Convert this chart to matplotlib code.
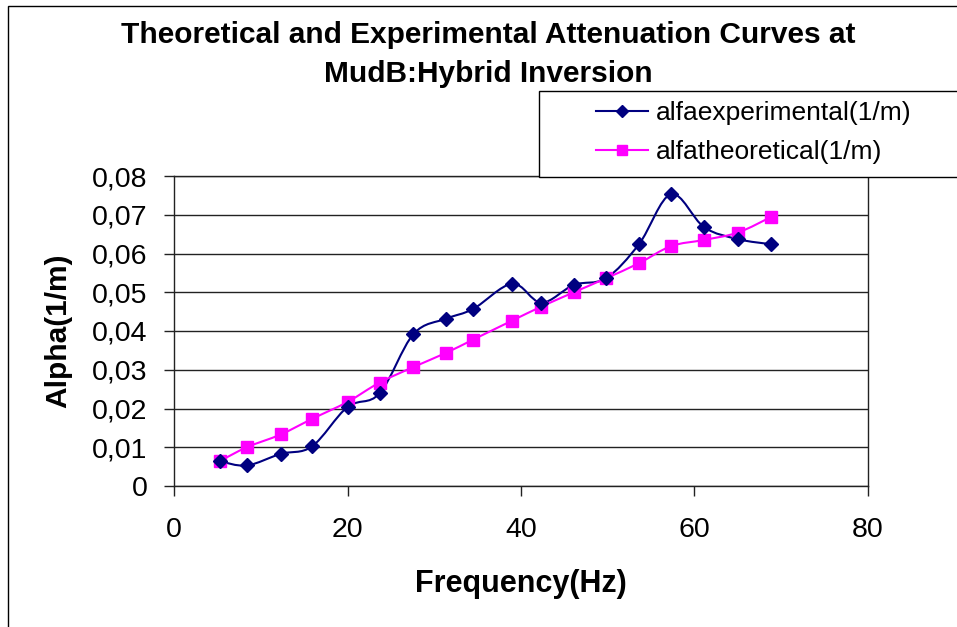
import matplotlib
matplotlib.use("Agg")
import matplotlib.pyplot as plt
import numpy as np
from matplotlib.path import Path
from matplotlib.patches import PathPatch, Rectangle
from matplotlib.lines import Line2D
from matplotlib.ticker import FuncFormatter

plt.rcParams['font.family'] = ['Liberation Sans', 'DejaVu Sans']

# values
freq = [5.25, 8.4, 12.3, 15.9, 20.0, 23.7, 27.6, 31.4, 34.5, 39.0,
        42.35, 46.1, 49.8, 53.6, 57.3, 61.1, 65.0, 68.8]
alfa_exp = [0.0064, 0.0053, 0.0083, 0.0102, 0.0204, 0.0239, 0.0392, 0.0432, 0.0457, 0.0522,
            0.0473, 0.0519, 0.0536, 0.0624, 0.0753, 0.0668, 0.0637, 0.0624]
alfa_theo = [0.0064, 0.0100, 0.0133, 0.0173, 0.0217, 0.0267, 0.0307, 0.0344, 0.0378, 0.0427,
             0.0463, 0.0500, 0.0536, 0.0575, 0.0619, 0.0635, 0.0654, 0.0694]
labels = ['alfaexperimental(1/m)', 'alfatheoretical(1/m)']
title = 'Theoretical and Experimental Attenuation Curves at\nMudB:Hybrid Inversion'

NAVY = '#000080'
MAGENTA = '#FF00FF'
W, H = 957, 627


def smooth_path(xs, ys):
    # Excel-style smoothed line: Catmull-Rom segments as cubic beziers
    x = np.asarray(xs, float)
    y = np.asarray(ys, float)
    verts = [(x[0], y[0])]
    codes = [Path.MOVETO]
    n = len(x)
    for i in range(n - 1):
        i0 = max(i - 1, 0)
        i3 = min(i + 2, n - 1)
        c1 = (x[i] + (x[i + 1] - x[i0]) / 6, y[i] + (y[i + 1] - y[i0]) / 6)
        c2 = (x[i + 1] - (x[i3] - x[i]) / 6, y[i + 1] - (y[i3] - y[i]) / 6)
        verts += [c1, c2, (x[i + 1], y[i + 1])]
        codes += [Path.CURVE4] * 3
    return Path(verts, codes)


fig = plt.figure(figsize=(W / 100, H / 100), dpi=100)
ax = fig.add_axes([174 / W, 1 - 486 / H, 694 / W, 310 / H])

# outer chart border (right and bottom edges fall outside the picture)
fig.patches.append(Rectangle((8 / W, -0.1), 1.1, 1.1 - 6 / H, transform=fig.transFigure,
                             fill=False, edgecolor='black', linewidth=1.0))

for ys, col in [(alfa_exp, NAVY), (alfa_theo, MAGENTA)]:
    ax.add_patch(PathPatch(smooth_path(freq, ys), fill=False, edgecolor=col, linewidth=1.5, zorder=3))

ax.plot(freq, alfa_theo, linestyle='none', marker='s', markersize=9, color=MAGENTA, zorder=4)
ax.plot(freq, alfa_exp, linestyle='none', marker='D', markersize=7.5, color=NAVY, zorder=5)

ax.set_xlim(0, 80)
ax.set_ylim(0, 0.08)
ax.set_xticks([0, 20, 40, 60, 80])
ax.set_yticks(np.arange(0, 0.081, 0.01))
ax.yaxis.set_major_formatter(FuncFormatter(lambda v, p: '0' if abs(v) < 1e-9 else f'{v:.2f}'.replace('.', ',')))
ax.grid(axis='y', color='#222222', linewidth=1.0)
ax.set_axisbelow(True)
for s in ax.spines.values():
    s.set_color('#222222')
    s.set_linewidth(1.0)
ax.tick_params(direction='out', length=7, width=1, color='#222222', labelsize=20.5)
ax.tick_params(axis='y', pad=12)
ax.tick_params(axis='x', pad=15)

ax.set_xlabel('Frequency(Hz)', fontsize=22, fontweight='bold')
ax.xaxis.set_label_coords((521 - 174) / 694, (486 - 569) / 310)
ax.set_ylabel('Alpha(1/m)', fontsize=21.5, fontweight='bold')
ax.yaxis.set_label_coords((72 - 174) / 694, 0.5)
fig.text(488 / W, 1 - 21 / H, title, ha='center', va='top', fontsize=21.5,
         fontweight='bold', linespacing=1.5)

# legend frame runs off the right edge like in the original
fig.patches.append(Rectangle((539 / W, 1 - 177 / H), 0.6, 86 / H, transform=fig.transFigure,
                             facecolor='white', edgecolor='black', linewidth=1.0, zorder=2))
handles = [Line2D([], [], color=NAVY, marker='D', markersize=6.5, linewidth=1.5),
           Line2D([], [], color=MAGENTA, marker='s', markersize=7.5, linewidth=1.5)]
leg = fig.legend(handles, labels, loc='upper left', bbox_to_anchor=(596 / W, 1 - 101 / H),
                 fontsize=19, frameon=False, handlelength=1.97, borderpad=0,
                 labelspacing=0.58, handletextpad=0.3, borderaxespad=0)
leg.set_zorder(3)

fig.savefig('out.png', dpi=100)
